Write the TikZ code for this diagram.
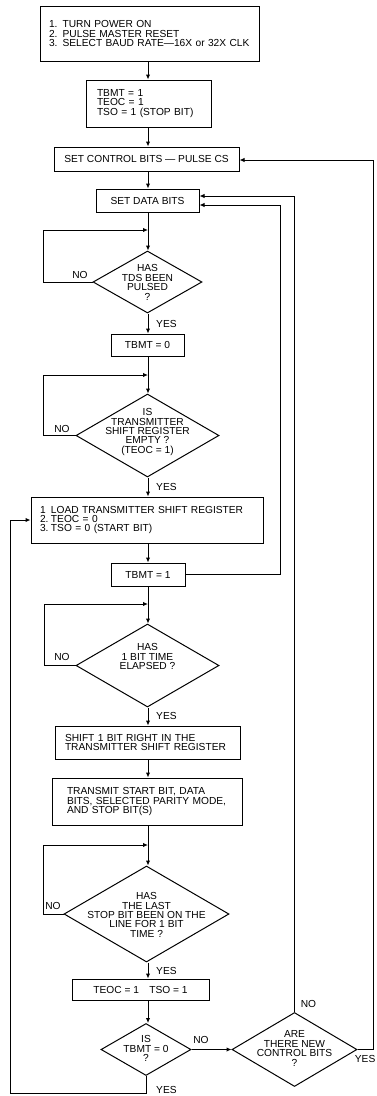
\documentclass[tikz,border=0pt]{standalone}
\usepackage{fontspec}
\setmainfont{Liberation Sans}
\usetikzlibrary{shapes.geometric,arrows.meta}
\begin{document}
\begin{tikzpicture}[x=1pt,y=-1pt,
  every node/.style={font=\fontsize{10.2}{9.4}\selectfont},
  box/.style={draw, line width=1pt, inner ysep=0pt, align=left},
  cbox/.style={draw, line width=1pt, inner sep=0pt, align=center},
  dia/.style={draw, line width=1pt, diamond, inner sep=0pt},
  dtext/.style={align=center, inner sep=0pt},
  lab/.style={inner sep=0pt},
  line/.style={line width=1pt},
  arr/.style={line width=1pt, -{Latex[length=5pt,width=4.5pt]}}
]
\useasboundingbox (0,0) rectangle (376,1096);
\coordinate (col) at (148,0);

% process boxes
\node[box, minimum height=55, text width=201, inner xsep=9] (b1) at (149.5,33.5)
  {1. TURN POWER ON\\2. PULSE MASTER RESET\\3. SELECT BAUD RATE—16X or 32X CLK};
\node[box, minimum height=47, text width=103, inner xsep=11] (b2) at (148.5,103.5)
  {TBMT = 1\\TEOC = 1\\TSO = 1 (STOP BIT)};
\node[cbox, minimum width=185, minimum height=24] (b3) at (146.5,159)
  {SET CONTROL BITS — PULSE CS};
\node[cbox, minimum width=103, minimum height=23] (b4) at (147.5,200.5)
  {SET DATA BITS};
\node[cbox, minimum width=73, minimum height=22] (tb0) at (147.5,345)
  {TBMT = 0};
\node[box, minimum height=46, text width=214, inner xsep=9] (load) at (147,520)
  {\makebox[11pt][l]{1}LOAD TRANSMITTER SHIFT REGISTER\\\makebox[11pt][l]{2.}TEOC = 0\\\makebox[11pt][l]{3.}TSO = 0 (START BIT)};
\node[cbox, minimum width=74, minimum height=23] (tb1) at (148,574.5)
  {TBMT = 1};
\node[box, minimum height=33, text width=165, inner xsep=10] (shift) at (147.5,742.5)
  {SHIFT 1 BIT RIGHT IN THE\\TRANSMITTER SHIFT REGISTER};
\node[box, minimum height=47, text width=160, inner xsep=15] (trans) at (147,801.5)
  {TRANSMIT START BIT, DATA\\BITS, SELECTED PARITY MODE,\\AND STOP BIT(S)};
\node[cbox, minimum width=137, minimum height=21] (teoc) at (140.5,989.5)
  {TEOC = 1\quad TSO = 1};

% decisions
\node[dia, minimum width=109, minimum height=62] (d1) at (147.5,282) {};
\node[dtext] (d1t) at (147.5,282.5) {HAS\\TDS BEEN\\PULSED\\?};
\node[dia, minimum width=143, minimum height=83] (d2) at (147.5,435.5) {};
\node[dtext] (d2t) at (147.5,432) {IS\\TRANSMITTER\\SHIFT REGISTER\\EMPTY ?\\(TEOC = 1)};
\node[dia, minimum width=143, minimum height=83] (d3) at (147.5,665.5) {};
\node[dtext] (d3t) at (147.5,656.5) {HAS\\1 BIT TIME\\ELAPSED ?};
\node[dia, minimum width=165, minimum height=96] (d4) at (146.5,914) {};
\node[dtext] (d4t) at (146.5,915) {HAS\\THE LAST\\STOP BIT BEEN ON THE\\LINE FOR 1 BIT\\TIME ?};
\node[dia, minimum width=90, minimum height=52] (d5) at (146,1049.5) {};
\node[dtext] (d5t) at (146,1048.5) {IS\\TBMT = 0\\?};
\node[dia, minimum width=125, minimum height=74] (d6) at (294.5,1049.5) {};
\node[dtext] (d6t) at (294.5,1048.5) {ARE\\THERE NEW\\CONTROL BITS\\?};

% main vertical flow
\draw[arr] (b1.south -| col) -- (b2.north -| col);
\draw[arr] (b2.south -| col) -- (b3.north -| col);
\draw[arr] (b3.south -| col) -- (b4.north -| col);
\draw[arr] (b4.south -| col) -- (d1.north -| col);
\draw[arr] (d1.south -| col) -- (tb0.north -| col);
\draw[arr] (tb0.south -| col) -- (d2.north -| col);
\draw[arr] (d2.south -| col) -- (load.north -| col);
\draw[arr] (load.south -| col) -- (tb1.north -| col);
\draw[arr] (tb1.south -| col) -- (d3.north -| col);
\draw[arr] (d3.south -| col) -- (shift.north -| col);
\draw[arr] (shift.south -| col) -- (trans.north -| col);
\draw[arr] (trans.south -| col) -- (d4.north -| col);
\draw[arr] (d4.south -| col) -- (teoc.north -| col);
\draw[arr] (teoc.south -| col) -- (d5.north -| col);

% NO loops
\coordinate (l1) at (43,230);
\coordinate (l2) at (43,375);
\coordinate (l3) at (44,604);
\coordinate (l4) at (43,845);
\draw[arr] (d1.west) -| (l1) -- (l1 -| col);
\draw[arr] (d2.west) -| (l2) -- (l2 -| col);
\draw[arr] (d3.west) -| (l3) -- (l3 -| col);
\draw[arr] (d4.west) -| (l4) -- (l4 -| col);

% return paths
\coordinate (r1) at (10,1093);
\draw[arr] (d5.south) |- (r1) |- (load.west);
\draw[arr] (d5.east) -- (d6.west);
\coordinate (r2) at (294.5,196);
\draw[arr] (d6.north) -- (r2) -- (r2 -| b4.east);
\coordinate (r3) at (280,205);
\draw[arr] (tb1.east) -| (r3) -- (r3 -| b4.east);
\coordinate (r4) at (373,160);
\draw[arr] (d6.east) -| (r4) -- (r4 -| b3.east);

% labels
\node[lab] (n1) at (80,275) {NO};
\node[lab] (n2) at (62,429) {NO};
\node[lab] (n3) at (62,657) {NO};
\node[lab] (n4) at (53,906) {NO};
\node[lab] (n5) at (201,1040) {NO};
\node[lab] (n6) at (308.5,1004) {NO};
\node[lab, anchor=west] (y1) at (156,324) {YES};
\node[lab, anchor=west] (y2) at (156,487) {YES};
\node[lab, anchor=west] (y3) at (156,716) {YES};
\node[lab, anchor=west] (y4) at (156,971) {YES};
\node[lab, anchor=west] (y5) at (156,1090) {YES};
\node[lab, anchor=east] (y6) at (375.5,1059) {YES};
\end{tikzpicture}
\end{document}
